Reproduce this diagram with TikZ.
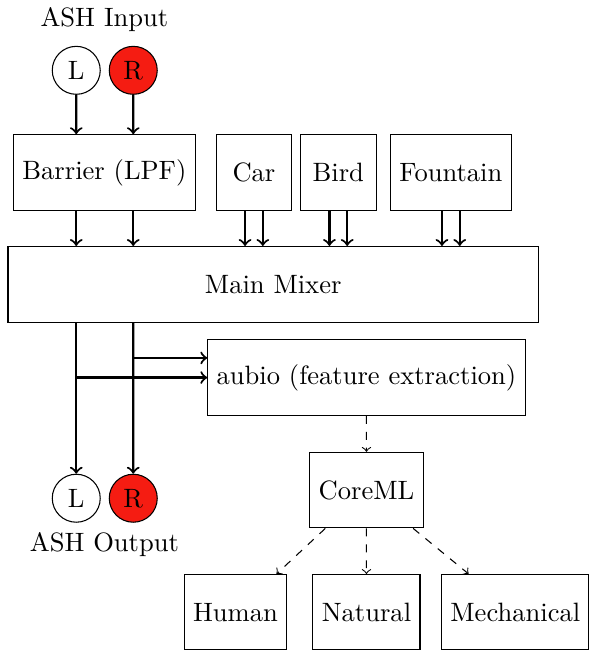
\documentclass[tikz,border=0pt]{standalone}
\usetikzlibrary{calc}

\definecolor{chanred}{RGB}{245,28,18}
\tikzset{
    block/.style={draw, minimum width=1cm, minimum height=1cm},
    chan/.style={draw, circle, minimum size=0.635cm, inner sep=0pt},
    sig/.style={->, thick},
    ml/.style={->, dashed, thin}
}

\begin{document}
\begin{tikzpicture}[scale=0.98]
    \useasboundingbox (0,0) rectangle (7.95,-8.78);

    % Input channels
    \node (inlabel) at (1.41,-0.27) {ASH Input};
    \node[chan] (inL) at (1.03,-0.95) {L};
    \node[chan, fill=chanred] (inR) at (1.80,-0.95) {R};

    % Sources
    \node[block] (barrier) at (1.41,-2.33) {Barrier (LPF)};
    \node[block] (car) at (3.43,-2.33) {Car};
    \node[block] (bird) at (4.57,-2.33) {Bird};
    \node[block] (fountain) at (6.09,-2.33) {Fountain};

    % Mixer and analysis
    \node[block, minimum width=7.02cm] (mixer) at (3.69,-3.84) {Main Mixer};
    \node[block] (aubio) at (4.95,-5.10) {aubio (feature extraction)};
    \node[block] (coreml) at (4.95,-6.62) {CoreML};

    % Output channels
    \node[chan] (outL) at (1.03,-6.73) {L};
    \node[chan, fill=chanred] (outR) at (1.80,-6.73) {R};
    \node (outlabel) at (1.41,-7.36) {ASH Output};

    % Classes
    \node[block] (human) at (3.18,-8.27) {Human};
    \node[block] (natural) at (4.95,-8.27) {Natural};
    \node[block] (mechanical) at (6.96,-8.27) {Mechanical};

    % Input to barrier to mixer
    \foreach \ch in {inL,inR} {
        \draw[sig] (\ch) -- (\ch |- barrier.north);
        \draw[sig] (\ch |- barrier.south) -- (\ch |- mixer.north);
    }

    % Stereo sources to mixer
    \foreach \src in {car,bird,fountain} {
        \foreach \dx in {-0.12,0.12} {
            \draw[sig] ([xshift=\dx cm]\src.south) -- ([xshift=\dx cm]\src.south |- mixer.north);
        }
    }

    % Mixer to output and to aubio
    \draw[sig] (outL |- mixer.south) -- (outL);
    \draw[sig] (outR |- mixer.south) -- (outR);
    \draw[sig] (outL |- aubio.west) -- (aubio.west);
    \draw[sig] ([yshift=0.265cm]aubio.west -| outR) -- ([yshift=0.265cm]aubio.west);

    % Classification
    \draw[ml] (aubio) -- (coreml);
    \foreach \cls in {human,natural,mechanical} {
        \draw[ml] (coreml) -- (\cls);
    }

\end{tikzpicture}
\end{document}
